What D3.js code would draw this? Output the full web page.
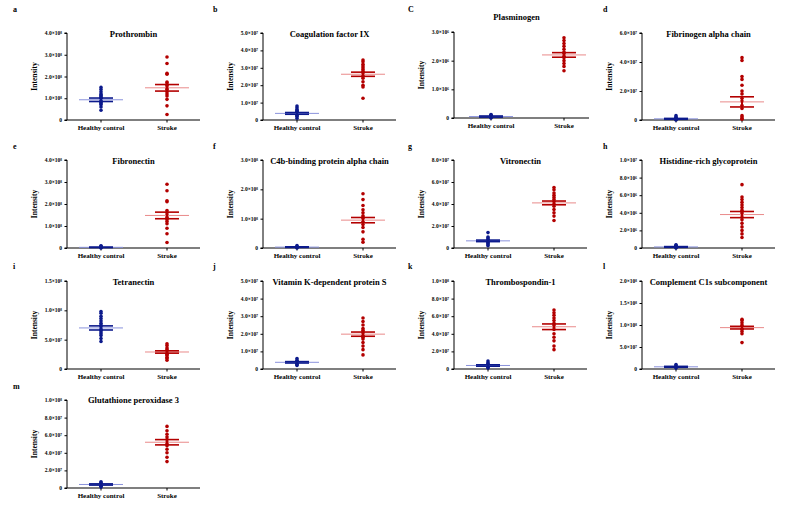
<!DOCTYPE html>
<html><head><meta charset="utf-8">
<script src="https://cdn.jsdelivr.net/npm/d3@7"></script>
<style>body{margin:0;background:#fff}svg{display:block}text{font-family:"Liberation Serif","Times New Roman",serif;font-weight:bold}</style>
</head><body><svg id="c" width="797" height="512"></svg>
<script>
const titles = ["Prothrombin","Coagulation factor IX","Plasminogen","Fibrinogen alpha chain","Fibronectin","C4b-binding protein alpha chain","Vitronectin","Histidine-rich  glycoprotein","Tetranectin","Vitamin K-dependent protein S","Thrombospondin-1","Complement C1s subcomponent","Glutathione peroxidase 3"];
const letters = ["a","b","C","d","e","f","g","h","i","j","k","l","m"];
const groups = ["Healthy control","Stroke"];
const yMax = [4,5,3,6,4,3,8,10,1.5,5,10,2,10];
const tickStep = [1,1,1,2,1,1,2,2,0.5,1,2,0.5,2];
const unitExp = [8,7,6,7,8,8,7,6,8,7,7,8,7];
const healthy = [
 [0.45,0.6,0.7,0.75,0.8,0.85,0.9,0.95,1.0,1.05,1.1,1.15,1.2,1.3,1.4,1.5],
 [0.1,0.2,0.25,0.3,0.35,0.4,0.45,0.5,0.55,0.6,0.7,0.8],
 [0.0,0.02,0.04,0.05,0.06,0.08,0.1,0.12],
 [0.0,0.03,0.05,0.08,0.1,0.15,0.2,0.3],
 [0.0,0.02,0.03,0.05,0.08,0.1],
 [0.0,0.02,0.03,0.05,0.08],
 [0.2,0.3,0.4,0.5,0.6,0.7,0.8,0.9,1.0,1.4],
 [0.0,0.05,0.1,0.15,0.2,0.3,0.35],
 [0.47,0.52,0.57,0.6,0.63,0.66,0.68,0.7,0.72,0.75,0.78,0.82,0.86,0.9,0.95,0.98],
 [0.2,0.25,0.3,0.35,0.4,0.45,0.5,0.6],
 [0.1,0.2,0.3,0.4,0.5,0.6,0.7,0.9],
 [0.02,0.04,0.05,0.07,0.1],
 [0.1,0.2,0.3,0.4,0.5,0.6,0.7]
];
const stroke = [
 [0.25,0.65,0.95,1.1,1.2,1.3,1.4,1.45,1.5,1.6,1.7,1.75,2.1,2.15,2.6,2.9],
 [1.25,1.9,2.0,2.2,2.4,2.5,2.6,2.7,2.8,2.9,3.0,3.1,3.2,3.35,3.45],
 [1.65,1.8,1.9,2.0,2.1,2.15,2.2,2.25,2.3,2.4,2.5,2.6,2.7,2.8],
 [0.05,0.1,0.2,0.3,0.8,1.0,1.3,1.5,1.8,2.0,2.4,2.8,3.0,4.1,4.3],
 [0.25,0.65,0.9,1.1,1.2,1.3,1.4,1.5,1.6,1.7,2.1,2.15,2.6,2.9],
 [0.2,0.3,0.55,0.7,0.8,0.9,1.0,1.05,1.1,1.2,1.3,1.45,1.65,1.85],
 [2.5,2.9,3.2,3.5,3.8,4.0,4.1,4.2,4.4,4.6,4.8,5.0,5.3,5.5],
 [1.2,1.6,2.0,2.4,2.8,3.2,3.5,3.8,4.0,4.3,4.6,4.9,5.2,5.5,5.8,7.2],
 [0.15,0.18,0.2,0.23,0.25,0.27,0.29,0.31,0.33,0.36,0.4,0.43],
 [0.8,1.1,1.3,1.5,1.7,1.8,1.9,2.0,2.1,2.2,2.3,2.5,2.7,2.9],
 [2.2,2.6,3.2,3.6,4.0,4.5,4.8,5.0,5.2,5.5,5.8,6.1,6.4,6.7],
 [0.6,0.8,0.85,0.9,0.92,0.95,0.97,1.0,1.05,1.1,1.13],
 [3.0,3.5,4.0,4.4,4.8,5.0,5.2,5.5,5.8,6.1,6.5,7.0]
];
const meanH = [0.93,0.38,0.05,0.08,0.03,0.03,0.65,0.12,0.70,0.38,0.40,0.05,0.40];
const semH  = [0.08,0.05,0.02,0.03,0.01,0.01,0.07,0.04,0.035,0.04,0.08,0.01,0.07];
const meanS = [1.48,2.63,2.20,1.25,1.48,0.95,4.10,3.80,0.29,1.98,4.80,0.94,5.20];
const semS  = [0.15,0.12,0.08,0.35,0.15,0.09,0.17,0.35,0.02,0.12,0.32,0.03,0.30];

const svg = d3.select("#c");
const colAxisX = [67,263,454,642];
const colLetterX = [13,213,408,603];
const rowTop = [33,160,281,400], rowBot = [120,248,369,488];
const rowLetterY = [12,149,269,389];
const sup = {"0":"⁰","1":"¹","2":"²","3":"³","4":"⁴","5":"⁵","6":"⁶","7":"⁷","8":"⁸","9":"⁹"};
const colors = [{dot:"#0c1a8c",mean:"#8a92dc"},{dot:"#b30000",mean:"#e98a8a"}];

titles.forEach((t,i)=>{
  const col=i%4,row=Math.floor(i/4);
  let ax=colAxisX[col], w=133, top=rowTop[row], bot=rowBot[row], gx=[34,100];
  if(i===2){top=32;bot=118;w=135;gx=[37,110];}
  const g=svg.append("g");
  const y=d3.scaleLinear().domain([0,yMax[i]]).range([bot,top]);
  const x=d3.scaleOrdinal().domain(groups).range([ax+gx[0],ax+gx[1]]);
  const ticks=d3.range(0,yMax[i]+1e-9,tickStep[i]);
  const yAxis=d3.axisLeft(y).tickValues(ticks).tickSize(2.5).tickFormat("");
  const ga=g.append("g").attr("transform",`translate(${ax},0)`).call(yAxis);
  ga.selectAll("path,line").attr("stroke","#000").attr("stroke-width",1);
  ga.select(".domain").attr("d",`M-2.5,${top}H0V${bot}`);
  ticks.forEach(v=>{
    const tx=g.append("text").attr("x",ax-5).attr("y",y(v)+2).attr("text-anchor","end").attr("font-size",5.5);
    if(v===0){tx.text("0");return;}
    let m=v,e=unitExp[i];
    while(m>=10-1e-9){m/=10;e++;}
    while(m<1-1e-9){m*=10;e--;}
    tx.text(m.toFixed(1)+"×10"+String(e).split("").map(c=>sup[c]).join(""));
  });
  g.append("line").attr("x1",ax-2.5).attr("x2",ax+w).attr("y1",bot).attr("y2",bot).attr("stroke","#000").attr("stroke-width",1.2);
  groups.forEach(gr=>{
    g.append("line").attr("x1",x(gr)).attr("x2",x(gr)).attr("y1",bot).attr("y2",bot+2.5).attr("stroke","#000");
    g.append("text").attr("x",x(gr)).attr("y",bot+10).attr("text-anchor","middle").attr("font-size",7).text(gr);
  });
  g.append("text").attr("transform",`translate(${ax-30},${(top+bot)/2}) rotate(-90)`).attr("text-anchor","middle").attr("font-size",7.5).text("Intensity");
  const ty = i===2 ? 20 : [37,164,285,403][row];
  g.append("text").attr("x",ax+w/2+(i===2?-5:0)).attr("y",ty).attr("text-anchor","middle").attr("font-size",8.5).text(t);
  g.append("text").attr("x",colLetterX[col]).attr("y",rowLetterY[row]).attr("font-size",8).text(letters[i]);
  const sets=[[healthy[i],meanH[i],semH[i]],[stroke[i],meanS[i],semS[i]]];
  sets.forEach(([pts,mn,se],k)=>{
    const cx=x(groups[k]),c=colors[k];
    g.selectAll(null).data(pts).enter().append("circle")
      .attr("cx",cx).attr("cy",d=>y(d)).attr("r",1.8).attr("fill",c.dot);
    g.append("line").attr("x1",cx-22).attr("x2",cx+22).attr("y1",y(mn)).attr("y2",y(mn)).attr("stroke",c.mean).attr("stroke-width",1);
    g.append("line").attr("x1",cx).attr("x2",cx).attr("y1",y(mn+se)).attr("y2",y(Math.max(0,mn-se))).attr("stroke",c.dot).attr("stroke-width",2);
    [mn+se,Math.max(0,mn-se)].forEach(v=>g.append("line").attr("x1",cx-12).attr("x2",cx+12).attr("y1",y(v)).attr("y2",y(v)).attr("stroke",c.dot).attr("stroke-width",1.6));
  });
});
</script></body></html>
